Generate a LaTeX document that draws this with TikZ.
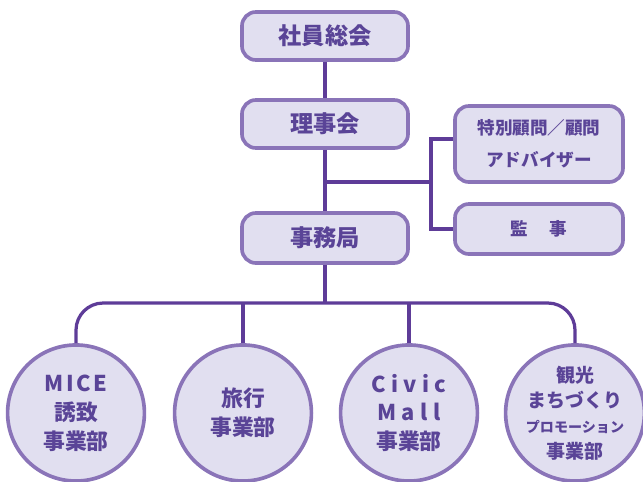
\documentclass[tikz,border=0pt]{standalone}
\usepackage{fontspec}
\setmainfont{Noto Sans CJK JP}
\usetikzlibrary{shapes.geometric}
\definecolor{waku}{HTML}{8A74B8}
\definecolor{nuri}{HTML}{E1DFF0}
\definecolor{sen}{HTML}{5E3C98}
\definecolor{moji}{HTML}{5A4497}
\begin{document}
\begin{tikzpicture}[x=0.025cm,y=-0.025cm,
  box/.style={draw=waku,fill=nuri,line width=2.6pt,rounded corners=0.35cm,text=moji,font=\bfseries\fontsize{16.5}{20}\selectfont,inner sep=0pt},
  bubble/.style={ellipse,draw=waku,fill=nuri,line width=2.6pt,text=moji,minimum width=3.42cm,minimum height=3.4cm,inner sep=0pt,align=center,font=\bfseries\fontsize{15.5}{20.5}\selectfont},
  conn/.style={draw=sen,line width=2.3pt}]
 \useasboundingbox (0,0) rectangle (643,481);
 % top column
 \node[box,minimum width=4.15cm,minimum height=1.2cm] (soukai) at (325,36) {社員総会};
 \node[box,minimum width=4.15cm,minimum height=1.2cm] (rijikai) at (325,124) {理事会};
 \node[box,minimum width=4.15cm,minimum height=1.25cm] (jimukyoku) at (325,238) {事務局};
 % side boxes
 \node[box,minimum width=4.2cm,minimum height=1.9cm,align=center,font=\bfseries\fontsize{12.5}{23}\selectfont] (komon) at (539,144) {特別顧問／顧問\\アドバイザー};
 \node[box,minimum width=4.2cm,minimum height=1.25cm,font=\bfseries\fontsize{12.5}{20}\selectfont] (kanji) at (539,229) {監\hspace{1.2em}事};
 % divisions
 \node[bubble] (mice) at (76,413) {{\addfontfeature{LetterSpace=12}MICE}\\誘致\\事業部};
 \node[bubble] (ryoko) at (243,413) {旅行\\事業部};
 \node[bubble] (civic) at (409,413) {{\addfontfeature{LetterSpace=25}Civic}\\{\addfontfeature{LetterSpace=25}Mall}\\事業部};
 \node[bubble,font=\bfseries\fontsize{13.5}{18}\selectfont] (kanko) at (575,413) {観光\\まちづくり\\{\fontsize{10}{16}\selectfont プロモーション}\\事業部};
 \coordinate (fork) at (431,182);
 \coordinate (tee) at (325,182);
 \coordinate (bus) at (325,303);
 % connectors
 \draw[conn] (soukai) -- (rijikai);
 \draw[conn] (rijikai) -- (jimukyoku);
 \draw[conn] (tee) -- (fork);
 \draw[conn] (komon.west |- 0,139) -| (fork) |- (kanji.west);
 \draw[conn] (jimukyoku) -- (bus);
 \draw[conn,rounded corners=0.68cm] (mice.north) |- (bus) -| (kanko.north);
 \draw[conn] (ryoko.north) -- (ryoko.north |- bus);
 \draw[conn] (civic.north) -- (civic.north |- bus);
\end{tikzpicture}
\end{document}
